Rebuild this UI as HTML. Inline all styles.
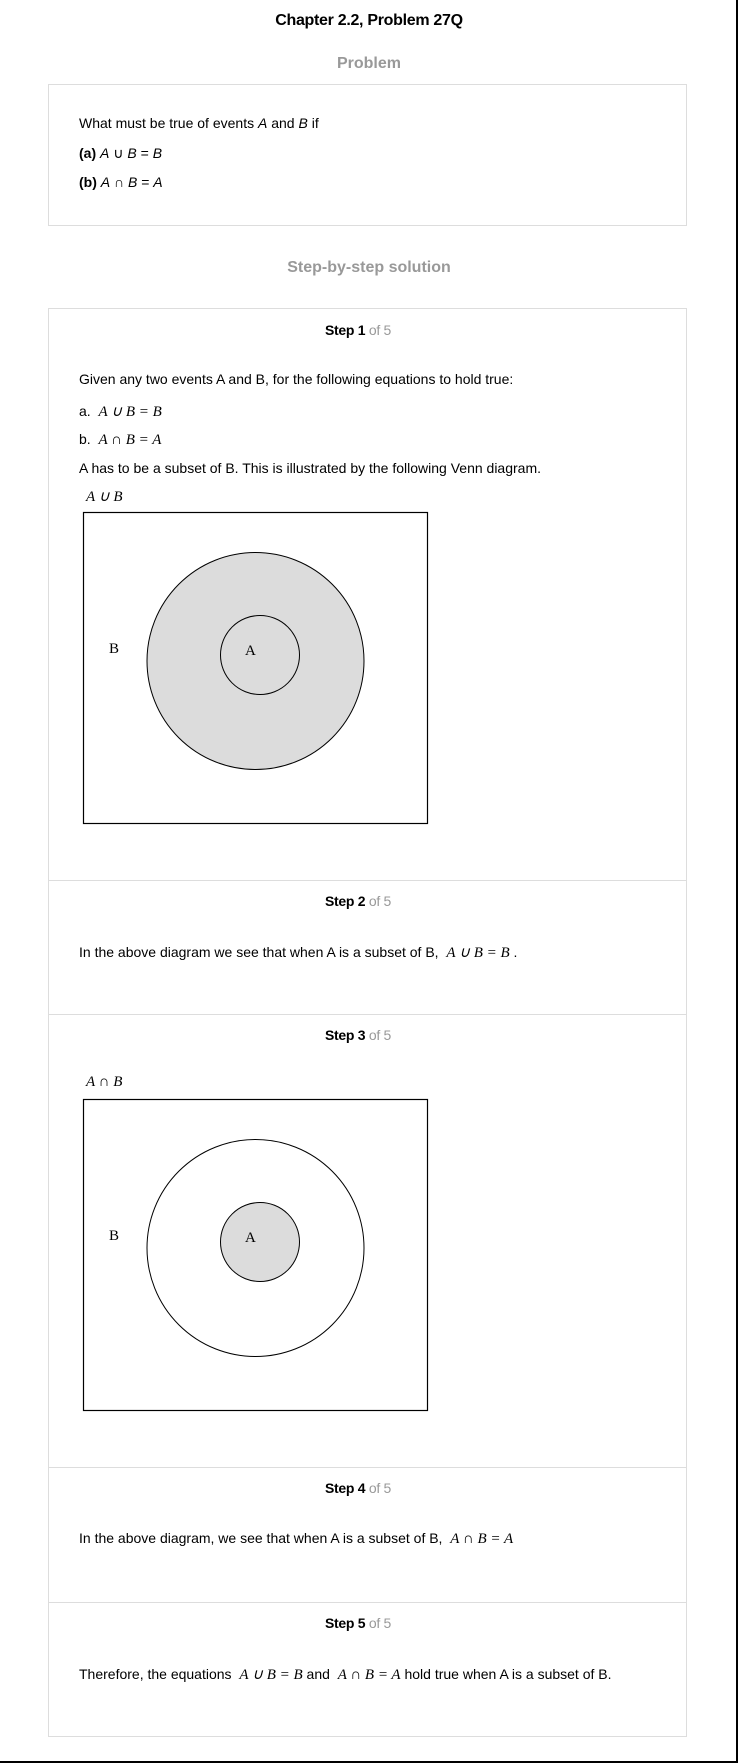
<!DOCTYPE html>
<html><head><meta charset="utf-8"><style>
body{margin:0;width:738px;height:1763px;position:relative;background:#fff;font-family:"Liberation Sans",sans-serif;overflow:hidden}
.abs{position:absolute;white-space:nowrap}
.box{position:absolute;left:48px;width:639px;border:1px solid #ddd;box-sizing:border-box}
.sep{position:absolute;left:49px;width:638px;height:1px;background:#ddd}
.t{font-size:14px;color:#000;left:79px}
.hdr{font-size:14px;font-weight:bold;left:0;width:716px;text-align:center;letter-spacing:-0.3px}
.hdr span{font-weight:normal;color:#999}
.m{font-family:"Liberation Serif",serif;font-style:italic;font-size:15px}
</style></head><body>
<div class="abs" style="left:0;width:738px;text-align:center;top:12px;font-size:16px;font-weight:bold;letter-spacing:-0.3px">Chapter 2.2, Problem 27Q</div>
<div class="abs" style="left:0;width:738px;text-align:center;top:55px;font-size:16px;font-weight:bold;color:#999">Problem</div>
<div class="box" style="top:84px;height:142px"></div>
<div class="abs t" style="top:115px">What must be true of events <i>A</i> and <i>B</i> if</div>
<div class="abs t" style="top:145px"><b>(a)</b> <i>A</i> ∪ <i>B</i> = <i>B</i></div>
<div class="abs t" style="top:174px"><b>(b)</b> <i>A</i> ∩ <i>B</i> = <i>A</i></div>
<div class="abs" style="left:0;width:738px;text-align:center;top:259px;font-size:16px;font-weight:bold;color:#999">Step-by-step solution</div>
<div class="box" style="top:308px;height:1429px"></div>
<div class="sep" style="top:880px"></div>
<div class="sep" style="top:1014px"></div>
<div class="sep" style="top:1467px"></div>
<div class="sep" style="top:1602px"></div>

<div class="abs hdr" style="top:322px">Step 1 <span>of 5</span></div>
<div class="abs t" style="top:371px">Given any two events A and B, for the following equations to hold true:</div>
<div class="abs t" style="top:402px">a. &nbsp;<span class="m">A ∪ B = B</span></div>
<div class="abs t" style="top:431px">b. &nbsp;<span class="m">A ∩ B = A</span></div>
<div class="abs t" style="top:460px">A has to be a subset of B. This is illustrated by the following Venn diagram.</div>
<div class="abs m" style="left:86px;top:487px">A ∪ B</div>
<svg class="abs" style="left:0;top:0" width="738" height="900">
<rect x="83.5" y="512.5" width="344" height="311" fill="#fff" stroke="#000" stroke-width="1.2"/>
<circle cx="255.5" cy="661" r="108.5" fill="#dcdcdc" stroke="#000"/>
<circle cx="260" cy="655" r="39.5" fill="#dcdcdc" stroke="#000"/>
<text x="109" y="653" font-family="Liberation Serif" font-size="15">B</text>
<text x="245" y="655" font-family="Liberation Serif" font-size="15">A</text>
</svg>

<div class="abs hdr" style="top:893px">Step 2 <span>of 5</span></div>
<div class="abs t" style="top:943px">In the above diagram we see that when A is a subset of B, &nbsp;<span class="m">A ∪ B = B</span> .</div>

<div class="abs hdr" style="top:1027px">Step 3 <span>of 5</span></div>
<div class="abs m" style="left:86px;top:1074px">A ∩ B</div>
<svg class="abs" style="left:0;top:587px" width="738" height="900">
<rect x="83.5" y="512.5" width="344" height="311" fill="#fff" stroke="#000" stroke-width="1.2"/>
<circle cx="255.5" cy="661" r="108.5" fill="#fff" stroke="#000"/>
<circle cx="260" cy="655" r="39.5" fill="#dcdcdc" stroke="#000"/>
<text x="109" y="653" font-family="Liberation Serif" font-size="15">B</text>
<text x="245" y="655" font-family="Liberation Serif" font-size="15">A</text>
</svg>

<div class="abs hdr" style="top:1480px">Step 4 <span>of 5</span></div>
<div class="abs t" style="top:1530px">In the above diagram, we see that when A is a subset of B, &nbsp;<span class="m">A ∩ B = A</span></div>

<div class="abs hdr" style="top:1615px">Step 5 <span>of 5</span></div>
<div class="abs t" style="top:1665px">Therefore, the equations &nbsp;<span class="m">A ∪ B = B</span> and &nbsp;<span class="m">A ∩ B = A</span> hold true when A is a subset of B.</div>

<div class="abs" style="left:736px;top:0;width:2px;height:1763px;background:#000"></div>
<div class="abs" style="left:0;top:1761px;width:738px;height:2px;background:#000"></div>
</body></html>
